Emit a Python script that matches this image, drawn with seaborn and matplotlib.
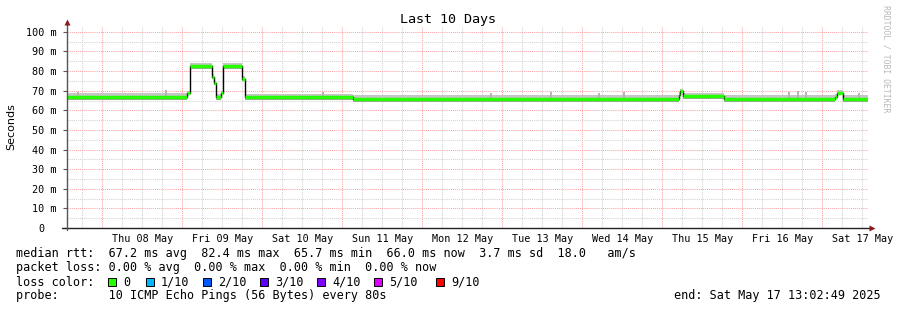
import numpy as np
import pandas as pd
import matplotlib
matplotlib.use("Agg")
import matplotlib.pyplot as plt
import seaborn as sns
from matplotlib.patches import Rectangle
from matplotlib.transforms import ScaledTranslation

sns.set_theme(style="white")
plt.rcParams['font.family'] = ['DejaVu Sans Mono', 'DejaVu Sans']

# ---------------- data (time in hours since Wed 07 May 00:00) ----------------
seg_bounds = [13.4, 49.4, 50.15, 56.9, 57.5, 58.1, 59.6, 60.3, 65.9, 66.8, 99.2,
              196.85, 197.3, 198.05, 210.35, 243.8, 244.4, 246.3, 253.7]
median_ms = [66.8, 68.7, 82.5, 77.0, 73.8, 66.6, 68.7, 82.4, 76.0, 66.8, 65.8,
             67.9, 69.9, 67.2, 65.8, 67.0, 69.0, 65.8]
smoke_lo = [65.4, 67.6, 81.1, 76.0, 72.8, 65.4, 67.6, 81.0, 75.0, 65.4, 64.5,
            66.8, 68.6, 65.9, 64.5, 65.8, 67.7, 64.5]
smoke_hi = [68.7, 70.0, 84.3, 78.3, 75.0, 68.3, 69.9, 84.1, 77.3, 68.5, 67.7,
            69.3, 71.1, 68.9, 67.7, 68.3, 70.4, 67.7]
spike_hours = [16.7, 43.1, 90.2, 140.5, 158.6, 173.0, 180.5, 230.0, 232.7, 235.1, 251.0]
spike_top = [69.6, 70.2, 69.2, 68.9, 69.4, 69.0, 69.2, 69.5, 70.0, 69.1, 69.0]

day_labels = ["Thu 08 May", "Fri 09 May", "Sat 10 May", "Sun 11 May", "Mon 12 May",
              "Tue 13 May", "Wed 14 May", "Thu 15 May", "Fri 16 May", "Sat 17 May"]
ytick_vals = [0, 10, 20, 30, 40, 50, 60, 70, 80, 90, 100]
ytick_text = ["0", "10 m", "20 m", "30 m", "40 m", "50 m", "60 m", "70 m", "80 m", "90 m", "100 m"]

loss_labels = ["0", "1/10", "2/10", "3/10", "4/10", "5/10", "9/10"]
loss_colors = ["#26ff00", "#00b8ff", "#0059ff", "#5e00ff", "#7e00ff", "#dd00ff", "#ff0000"]

stats_line1 = "median rtt:  67.2 ms avg  82.4 ms max  65.7 ms min  66.0 ms now  3.7 ms sd  18.0   am/s"
stats_line2 = "packet loss: 0.00 % avg  0.00 % max  0.00 % min  0.00 % now"
stats_line3 = "loss color:"
stats_line4 = "probe:       10 ICMP Echo Pings (56 Bytes) every 80s"
end_text = "end: Sat May 17 13:02:49 2025"
title = "Last 10 Days"
ylabel = "Seconds"
watermark = "RRDTOOL / TOBI OETIKER"

# ---------------- figure ----------------
W, H = 897, 310
fig = plt.figure(figsize=(W / 100, H / 100), dpi=100)
fig.patch.set_facecolor("white")
ax_l, ax_r, ax_t, ax_b = 67, 868, 26, 228
ax = fig.add_axes([ax_l / W, (H - ax_b) / H, (ax_r - ax_l) / W, (ax_b - ax_t) / H])
ax.set_facecolor("white")
ax.set_xlim(seg_bounds[0], seg_bounds[-1])
ax.set_ylim(0, 103)

def px(x, y):
    return x / W, 1 - y / H

# grid
red = "#ffa3a3"
grey = "#d2d2d2"
dot = (0, (1, 1))
for h in np.arange(18, 254, 6):
    major = (h % 24 == 0)
    ax.axvline(h, color=red if major else grey, lw=0.75, ls=dot, zorder=0.5)
for v in np.arange(5, 101, 5):
    ax.axhline(v, color=red if v % 10 == 0 else grey, lw=0.75, ls=dot, zorder=0.5)

# smoke
ext_b = seg_bounds
ax.fill_between(ext_b, smoke_lo + [smoke_lo[-1]], smoke_hi + [smoke_hi[-1]],
                step="post", color="#c6c6c6", lw=0, zorder=2)
ax.fill_between(ext_b, smoke_lo + [smoke_lo[-1]], median_ms + [median_ms[-1]],
                step="post", color="#a0a0a0", lw=0, zorder=2.1)
idx = np.searchsorted(seg_bounds, spike_hours) - 1
spike_base = [median_ms[i] for i in idx]
ax.vlines(spike_hours, spike_base, spike_top, color="#b4b4b4", lw=1.4, zorder=2)

# median: black step line + green level segments
df = pd.DataFrame({"t": seg_bounds, "ms": median_ms + [median_ms[-1]]})
sns.lineplot(data=df, x="t", y="ms", drawstyle="steps-post", color="black",
             lw=1.0, ax=ax, zorder=3)
ax.hlines(median_ms, seg_bounds[:-1], seg_bounds[1:], color=loss_colors[0],
          lw=2.5, zorder=4)

# axes styling
for s in ax.spines.values():
    s.set_visible(False)
ax.set_xlabel("")
ax.set_ylabel("")
ax.set_xticks(np.arange(36, 253, 24))
ax.set_xticklabels(day_labels, fontsize=7.3, color="black")
ax.tick_params(axis="x", length=0, pad=4)
ax.set_yticks(ytick_vals)
ax.set_yticklabels(ytick_text, fontsize=7.3, color="black")
ax.tick_params(axis="y", length=3, width=0.8, color="#555555", pad=4.5, left=True)
lbl0 = ax.get_yticklabels()[0]
lbl0.set_transform(lbl0.get_transform() + ScaledTranslation(-12.2 / 100, 0, fig.dpi_scale_trans))

# axis lines with arrows
ax.plot([-5 / 801, 1.004], [0, 0], transform=ax.transAxes, color="#222222", lw=1.0,
        clip_on=False, zorder=5)
ax.plot([0, 0], [-0.01, 1.015], transform=ax.transAxes, color="#555555", lw=1.0,
        clip_on=False, zorder=5)
ax.plot([1.0055], [0], marker=">", ms=4.5, color="#8b1a1a", transform=ax.transAxes,
        clip_on=False, zorder=6, mec="none")
ax.plot([0], [1.02], marker="^", ms=4.5, color="#8b1a1a", transform=ax.transAxes,
        clip_on=False, zorder=6, mec="none")

# texts
fig.text(*px(448, 20), title, ha="center", va="center", fontsize=9.6, color="black")
fig.text(*px(11, 127), ylabel, ha="center", va="center", rotation=90, fontsize=8,
         family="DejaVu Sans", color="black")
fig.text(*px(886, 5), watermark, ha="center", va="top", rotation=-90, fontsize=5.9,
         color="#b8b8b8")

fs = 8.5
fig.text(*px(16, 254), stats_line1, ha="left", va="center", fontsize=fs, color="black")
fig.text(*px(16, 268), stats_line2, ha="left", va="center", fontsize=fs, color="black")
fig.text(*px(16, 282), stats_line3, ha="left", va="center", fontsize=fs, color="black")
fig.text(*px(16, 296), stats_line4, ha="left", va="center", fontsize=fs, color="black")
fig.text(*px(881, 296), end_text, ha="right", va="center", fontsize=fs, color="black")

sq_x = [108, 146, 203, 260, 317, 374, 436]
for x0, lab, col in zip(sq_x, loss_labels, loss_colors):
    fig.patches.append(Rectangle(px(x0, 286), 8 / W, 8 / H, transform=fig.transFigure,
                                 facecolor=col, edgecolor="black", lw=0.7))
    fig.text(*px(x0 + 15, 282), lab, ha="left", va="center", fontsize=fs, color="black")

fig.savefig("out.png", dpi=100, facecolor="white")
